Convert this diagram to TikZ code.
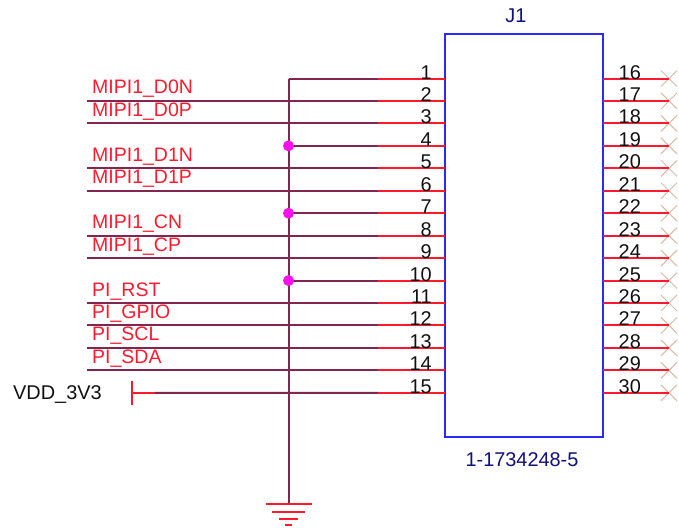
\documentclass[tikz,border=0pt]{standalone}
\usepackage{fontspec}
\setmainfont{Liberation Sans}
\definecolor{wirec}{HTML}{80264F}
\definecolor{pinc}{HTML}{FF1A2E}
\definecolor{boxc}{HTML}{2A2AFF}
\definecolor{xc}{HTML}{D9BBA5}
\definecolor{navyc}{HTML}{10107A}
\definecolor{txtc}{HTML}{111111}
\definecolor{juncc}{HTML}{FF10F0}
\tikzset{
  wire/.style={draw=wirec,line width=2pt},
  pinline/.style={draw=pinc,line width=2pt},
  txt/.style={inner sep=0pt,font=\fontsize{19.9}{20}\selectfont},
  netlabel/.style={inner sep=0pt,font=\fontsize{19.5}{20}\selectfont,text=pinc,anchor=base west},
  pinnumL/.style={txt,text=txtc,anchor=base east},
  pinnumR/.style={txt,text=txtc,anchor=base west},
  junction/.style={circle,fill=juncc,inner sep=0pt,minimum size=11pt}
}
\begin{document}
\begin{tikzpicture}[x=1pt,y=-1pt]
\useasboundingbox (0,0) rectangle (679,527);
% component body
\draw[draw=boxc,line width=2pt] (445,34) rectangle (603,437);
% pin coordinates
\foreach \n in {1,...,15}{
  \pgfmathsetmacro{\yy}{78.5+22.45*(\n-1)}
  \coordinate (bL\n) at (445,\yy);
  \coordinate (mL\n) at (378,\yy);
  \coordinate (tL\n) at (288.5,\yy);
  \coordinate (wL\n) at (86.5,\yy);
  \coordinate (bR\n) at (603,\yy);
  \coordinate (eR\n) at (669,\yy);
}
% signal wires
\foreach \n in {2,3,5,6,8,9,11,12,13,14}{ \draw[wire] (wL\n) -- (mL\n); }
\foreach \n in {1,4,7,10}{ \draw[wire] (tL\n) -- (mL\n); }
% VDD
\coordinate (vbar) at (132,392.8);
\coordinate (vbarT) at (132,381);
\coordinate (vbarB) at (132,404.5);
\coordinate (vend) at (155,392.8);
\draw[wire] (vend) -- (mL15);
\draw[pinline] (vbar) -- (vend);
\draw[pinline] (vbarT) -- (vbarB);
% trunk
\coordinate (gnd) at (288.5,504);
\draw[wire] (tL1) -- (gnd);
% ground symbol
\draw[pinline] (266,504) -- (312,504);
\draw[pinline] (272,511.5) -- (305,511.5);
\draw[pinline] (279,518.5) -- (298,518.5);
\draw[pinline] (285,525) -- (292,525);
% no-connect marks
\foreach \n in {1,...,15}{
  \draw[draw=xc,line width=1pt] ([shift={(-8,-8)}]eR\n) -- ([shift={(8,8)}]eR\n);
  \draw[draw=xc,line width=1pt] ([shift={(-8,8)}]eR\n) -- ([shift={(8,-8)}]eR\n);
}
% pins
\foreach \n in {1,...,15}{ \draw[pinline] (mL\n) -- (bL\n); \draw[pinline] (bR\n) -- (eR\n); }
% junctions
\foreach \n in {4,7,10}{ \node[junction] (j\n) at (tL\n) {}; }
% pin numbers
\foreach \n in {1,...,15}{ \node[pinnumL] (nL\n) at ([shift={(-13,0.5)}]bL\n) {\n}; }
\foreach \n [evaluate=\n as \r using int(\n+15)] in {1,...,15}{ \node[pinnumR] (nR\n) at ([shift={(15.5,0.5)}]bR\n) {\r}; }
% net labels
\foreach \n/\t in {2/MIPI1\_D0N,3/MIPI1\_D0P,5/MIPI1\_D1N,6/MIPI1\_D1P,8/MIPI1\_CN,9/MIPI1\_CP,11/PI\_RST,12/PI\_GPIO,13/PI\_SCL,14/PI\_SDA}{
  \node[netlabel] (lab\n) at ([shift={(5.5,-7)}]wL\n) {\t};
}
\node[txt,text=txtc,anchor=base west] (vdd) at (13,399) {VDD\_3V3};
\node[txt,text=navyc,anchor=base] (refdes) at (516,23) {J1};
\node[txt,text=navyc,anchor=base] (partno) at (522,466) {1-1734248-5};
\end{tikzpicture}
\end{document}
